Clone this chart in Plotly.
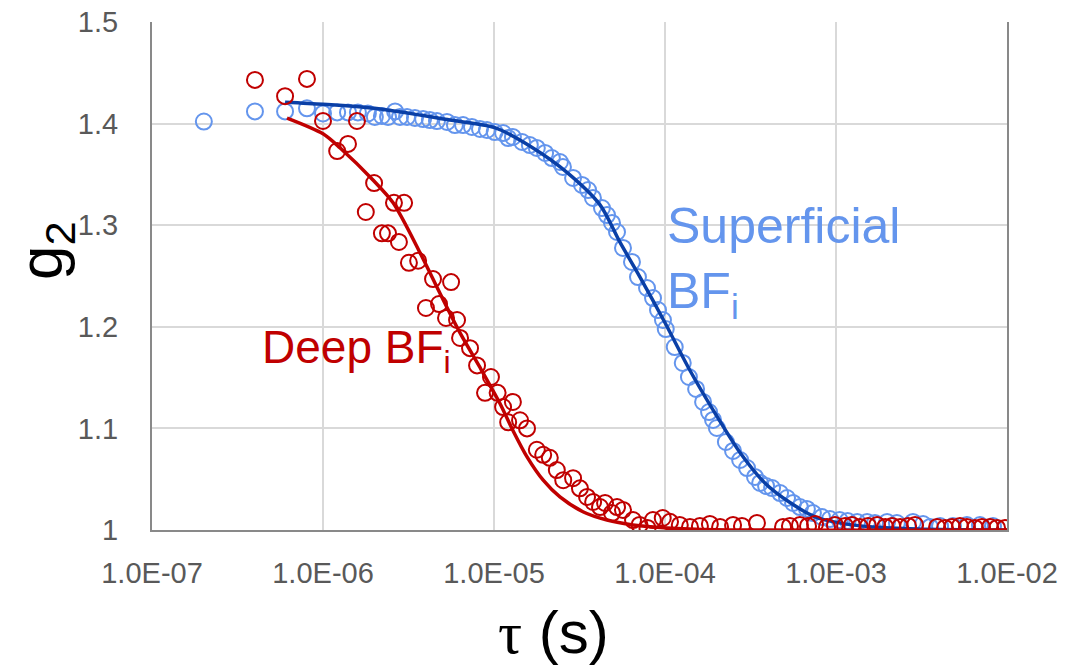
import plotly.graph_objects as go

# ---------------- data ----------------
sup_tau = [2.01e-7, 4.0e-7, 6.0e-7, 8.06e-7, 1.0e-6, 1.21e-6, 1.40e-6, 1.60e-6, 1.83e-6, 2.01e-6,
           2.21e-6, 2.40e-6, 2.64e-6, 2.82e-6, 3.10e-6, 3.45e-6, 3.85e-6, 4.22e-6, 4.64e-6, 5.31e-6,
           5.91e-6, 6.59e-6, 7.43e-6, 8.28e-6, 9.10e-6, 1.01e-5, 1.13e-5, 1.21e-5, 1.29e-5, 1.46e-5,
           1.62e-5, 1.78e-5, 1.99e-5, 2.18e-5, 2.43e-5, 2.53e-5, 2.90e-5, 3.27e-5, 3.55e-5, 3.79e-5,
           4.28e-5, 4.58e-5, 4.90e-5, 5.24e-5, 5.68e-5, 6.41e-5, 6.95e-5, 7.85e-5, 8.51e-5, 9.10e-5,
           9.73e-5, 1.01e-4, 1.14e-4, 1.27e-4, 1.38e-4, 1.52e-4, 1.67e-4, 1.81e-4, 1.91e-4, 2.01e-4,
           2.27e-4, 2.50e-4, 2.75e-4, 3.02e-4, 3.36e-4, 3.60e-4, 3.90e-4, 4.23e-4, 4.71e-4, 5.17e-4,
           5.61e-4, 6.15e-4, 6.76e-4, 7.33e-4, 8.28e-4, 9.22e-4, 1.05e-3, 1.17e-3, 1.33e-3, 1.52e-3,
           1.69e-3, 1.99e-3, 2.27e-3, 2.82e-3, 3.23e-3, 3.55e-3, 4.06e-3, 4.83e-3, 5.83e-3, 6.95e-3,
           8.28e-3]
sup_g2 = [1.402, 1.412, 1.412, 1.415, 1.410, 1.411, 1.411, 1.411, 1.410, 1.4065,
          1.4075, 1.4065, 1.412, 1.4065, 1.4065, 1.4055, 1.4045, 1.4035, 1.4025, 1.4016,
          1.3986, 1.3986, 1.3967, 1.3947, 1.3937, 1.3917, 1.3907, 1.3858, 1.3868, 1.3819,
          1.3789, 1.3760, 1.3711, 1.3661, 1.3622, 1.3573, 1.3465, 1.3396, 1.3346, 1.3268,
          1.3169, 1.3100, 1.3022, 1.2933, 1.2776, 1.2638, 1.2490, 1.2382, 1.2283, 1.2165,
          1.2067, 1.1978, 1.1801, 1.1644, 1.1506, 1.1388, 1.1260, 1.1161, 1.1083, 1.1004,
          1.0866, 1.0778, 1.0689, 1.0610, 1.0522, 1.0463, 1.0433, 1.0413, 1.0364, 1.0315,
          1.0266, 1.0226, 1.0207, 1.0167, 1.0128, 1.0108, 1.0098, 1.0089, 1.0079, 1.0079,
          1.0069, 1.0079, 1.0069, 1.0079, 1.0059, 1.0030, 1.0039, 1.0039, 1.0049, 1.0049,
          1.0039]

deep_tau = [4.0e-7, 6.0e-7, 8.06e-7, 1.0e-6, 1.21e-6, 1.40e-6, 1.58e-6, 1.78e-6, 1.99e-6, 2.21e-6,
            2.40e-6, 2.60e-6, 2.78e-6, 2.98e-6, 3.18e-6, 3.60e-6, 4.0e-6, 4.40e-6, 4.77e-6, 5.24e-6,
            5.61e-6, 6.08e-6, 6.33e-6, 7.24e-6, 7.96e-6, 8.86e-6, 9.6e-6, 1.05e-5, 1.13e-5, 1.21e-5,
            1.29e-5, 1.42e-5, 1.56e-5, 1.78e-5, 1.94e-5, 2.12e-5, 2.33e-5, 2.54e-5, 2.90e-5, 3.18e-5,
            3.50e-5, 3.80e-5, 4.17e-5, 4.46e-5, 4.90e-5, 5.24e-5, 5.68e-5, 6.5e-5, 7.1e-5, 7.9e-5,
            8.5e-5, 9.7e-5, 1.07e-4, 1.22e-4, 1.40e-4, 1.60e-4, 1.83e-4, 2.10e-4, 2.50e-4, 2.82e-4,
            3.45e-4, 4.90e-4, 5.38e-4, 6.15e-4, 6.86e-4, 7.54e-4, 8.86e-4, 9.86e-4, 1.13e-3, 1.24e-3,
            1.38e-3, 1.54e-3, 1.74e-3, 1.94e-3, 2.13e-3, 2.37e-3, 2.64e-3, 2.90e-3, 3.90e-3, 4.34e-3,
            4.77e-3, 5.31e-3, 5.83e-3, 6.50e-3, 7.14e-3, 7.96e-3, 8.75e-3, 9.73e-3]
deep_g2 = [1.443, 1.427, 1.444, 1.4026, 1.373, 1.380, 1.4026, 1.313, 1.3415, 1.292,
           1.292, 1.322, 1.2835, 1.322, 1.263, 1.265, 1.2185, 1.247, 1.2224, 1.2087,
           1.244, 1.2067, 1.189, 1.179, 1.162, 1.135, 1.1506, 1.135, 1.121, 1.106,
           1.126, 1.108, 1.100, 1.079, 1.074, 1.071, 1.059, 1.049, 1.051, 1.041,
           1.0325, 1.0276, 1.0226, 1.0266, 1.0167, 1.0226, 1.0197, 1.0098, 1.005, 1.002,
           1.0098, 1.0118, 1.008, 1.005, 1.003, 1.004, 1.006, 1.003, 1.005, 1.004,
           1.007, 1.003, 1.004, 1.005, 1.004, 1.006, 1.003, 1.005, 1.004, 1.005,
           1.003, 1.004, 1.005, 1.003, 1.004, 1.003, 1.004, 1.005, 1.003, 1.002,
           1.003, 1.004, 1.003, 1.002, 1.003, 1.003, 1.002, 1.002]

sup_fit_tau = [6.0e-7, 1.0e-6, 2.0e-6, 5.5e-6, 1.01e-5, 1.69e-5, 2.67e-5, 4.17e-5, 5.46e-5, 7.14e-5,
               1.0e-4, 1.40e-4, 1.96e-4, 2.75e-4, 3.85e-4, 5.38e-4, 7.54e-4, 1.05e-3, 1.64e-3, 3.0e-3,
               1.0e-2]
sup_fit_g2 = [1.421, 1.419, 1.415, 1.4035, 1.396, 1.376, 1.352, 1.320, 1.283, 1.249,
              1.204, 1.157, 1.115, 1.076, 1.046, 1.027, 1.013, 1.007, 1.003, 1.001,
              1.000]

deep_fit_tau = [6.16e-7, 1.0e-6, 1.26e-6, 1.96e-6, 2.57e-6, 3.69e-6, 4.83e-6, 6.33e-6, 8.28e-6, 1.08e-5,
                1.29e-5, 1.56e-5, 1.94e-5, 2.43e-5, 3.31e-5, 4.58e-5, 6.5e-5, 1.03e-4, 2.0e-4, 1.0e-2]
deep_fit_g2 = [1.4055, 1.390, 1.376, 1.3445, 1.322, 1.273, 1.233, 1.194, 1.160, 1.125,
               1.098, 1.072, 1.049, 1.0325, 1.018, 1.0098, 1.005, 1.002, 1.0003, 1.000]

x_tickvals = [1e-7, 1e-6, 1e-5, 1e-4, 1e-3, 1e-2]
x_ticktext = ["1.0E-07", "1.0E-06", "1.0E-05", "1.0E-04", "1.0E-03", "1.0E-02"]
y_tickvals = [1.0, 1.1, 1.2, 1.3, 1.4, 1.5]
y_ticktext = ["1", "1.1", "1.2", "1.3", "1.4", "1.5"]

# ---------------- styling ----------------
BLUE_PT = "#6495ED"
BLUE_LN = "#0A3FA6"
RED = "#C00000"
FONT = "Liberation Sans, Arial, sans-serif"

fig = go.Figure()
fig.add_trace(go.Scatter(x=sup_tau, y=sup_g2, mode="markers",
                         marker=dict(symbol="circle-open", size=16, color=BLUE_PT, line=dict(width=2, color=BLUE_PT)),
                         showlegend=False))
fig.add_trace(go.Scatter(x=sup_fit_tau, y=sup_fit_g2, mode="lines",
                         line=dict(color=BLUE_LN, width=3.5, shape="spline", smoothing=0.8), showlegend=False))
fig.add_trace(go.Scatter(x=deep_tau, y=deep_g2, mode="markers",
                         marker=dict(symbol="circle-open", size=16, color=RED, line=dict(width=2, color=RED)),
                         showlegend=False))
fig.add_trace(go.Scatter(x=deep_fit_tau, y=deep_fit_g2, mode="lines",
                         line=dict(color=RED, width=3.5, shape="spline", smoothing=0.8), showlegend=False))

fig.update_layout(
    width=1088, height=669,
    margin=dict(l=152, r=81, t=22, b=139, autoexpand=False),
    paper_bgcolor="white", plot_bgcolor="white",
    font=dict(family=FONT, color="#595959", size=29),
    xaxis=dict(type="log", range=[-7, -2], tickvals=x_tickvals, ticktext=x_ticktext,
               showgrid=True, gridcolor="#D9D9D9", gridwidth=1.5, automargin=False,
               showline=True, linecolor="#898989", linewidth=2,
               ticks="", ticklabelstandoff=16, tickfont=dict(size=29, color="#595959")),
    yaxis=dict(range=[1.0, 1.5], tickvals=y_tickvals, ticktext=y_ticktext,
               showgrid=True, gridcolor="#D9D9D9", gridwidth=1.5, automargin=False,
               showline=True, linecolor="#898989", linewidth=2, mirror=True,
               ticks="", ticklabelstandoff=26, tickfont=dict(size=29, color="#595959"),
               zeroline=False),
)

fig.add_annotation(xref="paper", yref="paper", x=(665 - 152) / 855, y=(530 - 262) / 508,
                   xanchor="left", yanchor="middle", align="left", showarrow=False,
                   text="Superficial<br>BF<sub>i</sub>",
                   font=dict(family=FONT, size=50, color=BLUE_PT))
fig.add_annotation(xref="paper", yref="paper", x=(260 - 152) / 855, y=(530 - 350) / 508,
                   xanchor="left", yanchor="middle", showarrow=False,
                   text="Deep BF<sub>i</sub>",
                   font=dict(family=FONT, size=46, color=RED))
fig.add_annotation(xref="paper", yref="paper", x=(45 - 152) / 855, y=(530 - 250) / 508,
                   xanchor="center", yanchor="middle", showarrow=False, textangle=-90,
                   text="g<sub>2</sub>", font=dict(family=FONT, size=62, color="black"))
fig.add_annotation(xref="paper", yref="paper", x=(553 - 152) / 855, y=(530 - 632) / 508,
                   xanchor="center", yanchor="middle", showarrow=False,
                   text="<span style='font-family:Liberation Serif, serif'>τ</span> (s)",
                   font=dict(family=FONT, size=60, color="black"))

fig.write_html("out.html")
